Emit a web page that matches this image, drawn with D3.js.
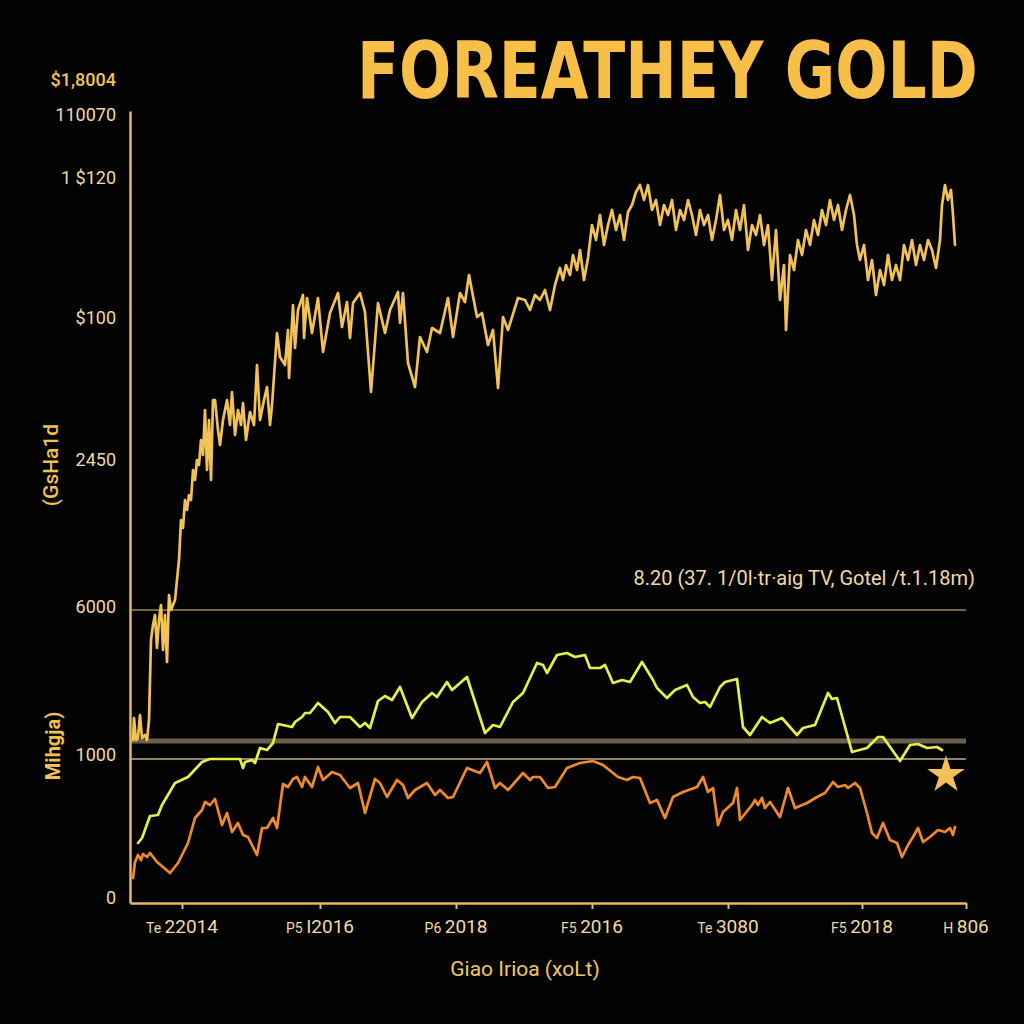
<!DOCTYPE html>
<html>
<head>
<meta charset="utf-8">
<script src="https://cdn.jsdelivr.net/npm/d3@7"></script>
<style>
  html, body { margin: 0; padding: 0; background: #030303; }
  svg { display: block; }
</style>
</head>
<body>
<svg id="chart" width="1024" height="1024"></svg>
<script>
// ---------- DATA ----------
const title = "FOREATHEY GOLD";
const annotation = "8.20 (37. 1/0l·tr·aig TV, Gotel /t.1.18m)";
const xAxisTitle = "Giao Irioa (xoLt)";
const yAxisTitle1 = "(GsHa1d";
const yAxisTitle2 = "Mihgja)";

const xTickValues = [52, 190, 326, 462, 598, 732, 836];
const xTickPrefixes = ["Te", "P5", "P6", "F5", "Te", "F5", "H"];
const xTickNumbers = ["22014", "I2016", "2018", "2016", "3080", "2018", "806"];

const yTickValues = [5, 148, 296, 443, 585, 725, 788, 823];
const yTickLabels = ["0", "1000", "6000", "2450", "$100", "1 $120", "110070", "$1,8004"];

const refLineValues = [293, 162, 144];
const starPoint = [816, 128];

const goldSeries = [[3,163],[4,185],[6,163],[8,165],[10,188],[12,165],[15,168],[17,163],[19,183],[21,263],[23,278],[25,288],[27,255],[29,283],[31,298],[33,253],[35,288],[37,241],[39,308],[41,293],[43,298],[45,303],[47,323],[49,343],[51,383],[53,375],[55,403],[57,393],[59,408],[61,403],[63,433],[65,423],[67,443],[69,438],[71,463],[73,448],[75,493],[77,433],[79,483],[81,423],[83,503],[85,503],[88,473],[90,458],[93,483],[97,503],[100,478],[102,511],[105,468],[108,493],[111,478],[113,500],[116,463],[120,491],[124,478],[127,538],[130,483],[134,503],[137,516],[140,478],[142,498],[147,570],[150,546],[155,538],[158,573],[159,525],[163,598],[165,555],[168,593],[173,608],[174,565],[177,605],[182,570],[188,605],[193,551],[200,590],[208,610],[212,576],[217,601],[220,565],[223,600],[230,610],[235,591],[241,511],[248,600],[255,570],[260,593],[268,611],[270,580],[273,610],[278,540],[285,516],[290,566],[297,551],[302,575],[310,570],[318,605],[323,566],[330,610],[335,601],[339,628],[347,586],[352,590],[358,558],[363,573],[368,515],[373,586],[378,573],[388,605],[395,603],[400,593],[405,608],[410,603],[415,613],[420,593],[425,618],[430,635],[433,623],[436,638],[440,628],[443,648],[447,633],[450,653],[454,623],[458,645],[462,678],[466,663],[470,688],[474,658],[478,678],[482,693],[486,673],[490,688],[494,663],[498,691],[502,698],[506,711],[510,718],[514,703],[518,718],[522,693],[526,703],[530,678],[534,698],[538,688],[542,703],[546,673],[550,693],[554,683],[558,703],[562,688],[566,668],[570,693],[574,678],[578,688],[582,663],[586,683],[590,708],[594,673],[598,683],[602,663],[606,693],[610,673],[614,698],[618,653],[622,678],[626,668],[630,688],[634,658],[638,678],[642,623],[646,673],[650,603],[654,638],[656,573],[660,648],[664,633],[668,663],[672,648],[676,673],[680,658],[684,683],[688,668],[692,693],[696,678],[700,703],[704,683],[708,698],[712,673],[716,693],[720,708],[724,688],[727,658],[730,643],[734,658],[738,623],[742,643],[746,608],[750,633],[754,618],[758,648],[762,623],[766,638],[770,623],[774,658],[778,643],[782,663],[786,638],[790,658],[794,643],[798,663],[802,653],[806,635],[810,663],[812,698],[815,718],[818,703],[821,713],[823,688],[825,658]];

const yellowSeries = [[8,60],[12,65],[20,87],[28,88],[32,98],[45,120],[58,126],[72,141],[80,144],[110,144],[113,135],[115,141],[122,143],[125,140],[130,155],[137,153],[143,160],[148,179],[162,176],[165,181],[172,186],[175,190],[180,190],[188,200],[198,191],[205,180],[210,186],[220,186],[230,176],[235,180],[240,175],[248,202],[255,207],[262,203],[270,216],[282,185],[292,201],[302,210],[307,206],[317,221],[322,213],[337,226],[355,170],[363,178],[370,176],[383,201],[393,210],[407,240],[413,238],[417,230],[427,248],[437,250],[445,246],[455,248],[460,235],[470,235],[475,238],[483,220],[492,223],[500,221],[512,241],[523,223],[527,215],[537,205],[545,213],[557,218],[563,206],[570,200],[575,201],[580,196],[590,216],[595,221],[607,224],[613,176],[620,168],[632,186],[640,180],[652,185],[667,168],[673,175],[685,178],[698,210],[702,204],[707,205],[722,151],[737,155],[748,166],[753,166],[770,142],[780,158],[788,159],[797,155],[807,156],[812,153]];

const orangeSeries = [[3,25],[5,41],[8,48],[11,43],[13,49],[17,46],[20,50],[27,41],[33,36],[40,30],[48,40],[58,60],[65,85],[72,93],[75,101],[80,98],[85,104],[92,78],[97,90],[102,71],[108,80],[113,68],[118,66],[127,48],[132,75],[137,75],[143,85],[147,75],[153,119],[158,116],[163,124],[167,126],[172,116],[175,126],[182,116],[188,136],[193,123],[202,131],[210,128],[220,115],[228,120],[235,90],[245,124],[250,120],[257,106],[267,123],[273,118],[278,105],[285,113],[297,120],[305,108],[310,113],[318,105],[323,106],[337,135],[350,130],[357,141],[365,115],[370,120],[378,113],[393,130],[400,123],[403,126],[410,126],[418,115],[425,116],[437,135],[450,140],[463,142],[473,138],[483,130],[488,126],[497,123],[503,126],[510,125],[520,100],[527,103],[535,85],[543,106],[553,111],[567,116],[573,126],[578,111],[583,115],[588,78],[593,91],[603,100],[607,115],[610,83],[622,98],[625,103],[628,98],[632,105],[635,95],[640,101],[650,86],[658,115],[665,95],[677,100],[687,106],[695,110],[703,121],[708,116],[715,118],[718,115],[725,120],[730,115],[737,90],[742,70],[747,65],[753,80],[760,63],[767,60],[772,46],[778,58],[783,66],[788,75],[793,61],[800,66],[808,73],[815,71],[820,75],[823,68],[825,76]];

// ---------- STYLE ----------
const C = {
  bg: "#030303",
  axis: "#E8B85A",
  tick: "#F0D9A2",
  title: "#F7BE48",
  gold: "#F3C257",
  yellow: "#E6EE48",
  orange: "#F08A26",
  star: "#F6BE58",
  ref: ["#9A8850", "#6C604C", "#BDAE8E"],
  refW: [1.5, 5, 1.5]
};
const font = "Roboto, 'Liberation Sans', 'DejaVu Sans', sans-serif";

const svg = d3.select("#chart");
svg.append("rect").attr("width", 1024).attr("height", 1024).attr("fill", C.bg);

const mLeft = 130, mRight = 966, mTop = 111, mBottom = 903;
const x = d3.scaleLinear().domain([0, 836]).range([mLeft, mRight]);
const y = d3.scaleLinear().domain([0, 792]).range([mBottom, mTop]);

// Title: condensed to a fixed width via a horizontal scale transform
const titleLeft = 357, titleWidth = 621, titleBaseline = 98;
const titleText = svg.append("text")
  .attr("x", 0).attr("y", 0)
  .attr("text-anchor", "start")
  .attr("font-family", "'Liberation Sans Narrow', 'DejaVu Sans Condensed', 'Liberation Sans', sans-serif")
  .attr("font-weight", 700)
  .attr("font-size", 78)
  .attr("fill", C.title)
  .text(title);
const natW = titleText.node().getComputedTextLength() || titleWidth;
titleText.attr("transform", `translate(${titleLeft},${titleBaseline}) scale(${titleWidth / natW},1)`);

// Reference lines
svg.append("g").selectAll("line").data(refLineValues).join("line")
  .attr("x1", x(0)).attr("x2", x(836))
  .attr("y1", d => y(d)).attr("y2", d => y(d))
  .attr("stroke", (d, i) => C.ref[i])
  .attr("stroke-width", (d, i) => C.refW[i]);

// Annotation
svg.append("text")
  .attr("x", 975).attr("y", 585)
  .attr("text-anchor", "end")
  .attr("font-family", font)
  .attr("font-size", 20)
  .attr("fill", C.tick)
  .text(annotation);

// Lines
const line = d3.line().x(d => x(d[0])).y(d => y(d[1])).curve(d3.curveLinear);
const seriesList = [
  { data: orangeSeries, color: C.orange },
  { data: yellowSeries, color: C.yellow },
  { data: goldSeries, color: C.gold }
];
svg.append("g").selectAll("path").data(seriesList).join("path")
  .attr("d", d => line(d.data))
  .attr("fill", "none")
  .attr("stroke", d => d.color)
  .attr("stroke-width", 2.7)
  .attr("stroke-linejoin", "round")
  .attr("stroke-linecap", "round");

// Star
svg.append("path")
  .attr("d", d3.symbol(d3.symbolStar, 440)())
  .attr("transform", `translate(${x(starPoint[0])},${y(starPoint[1])})`)
  .attr("fill", C.star);

// Y axis
const yAxis = d3.axisLeft(y)
  .tickValues(yTickValues)
  .tickFormat((d, i) => yTickLabels[i])
  .tickSize(0)
  .tickPadding(14);
const gy = svg.append("g").attr("transform", `translate(${mLeft},0)`).call(yAxis);
gy.select(".domain").attr("stroke", C.axis).attr("stroke-width", 2.5);
gy.selectAll("text")
  .attr("font-family", font)
  .attr("font-size", 18)
  .attr("fill", (d, i) => i === yTickValues.length - 1 ? "#F2C455" : C.tick)
  .attr("font-weight", (d, i) => i === yTickValues.length - 1 ? 500 : 400);

// X axis
const xAxis = d3.axisBottom(x)
  .tickValues(xTickValues)
  .tickFormat("")
  .tickSizeInner(6)
  .tickSizeOuter(0);
const gx = svg.append("g").attr("transform", `translate(0,${mBottom})`).call(xAxis);
gx.select(".domain").attr("stroke", C.axis).attr("stroke-width", 2.5);
gx.selectAll(".tick line").attr("stroke", C.axis).attr("stroke-width", 2);

const xl = svg.append("g").selectAll("text").data(xTickValues).join("text")
  .attr("x", d => x(d))
  .attr("y", 933)
  .attr("text-anchor", "middle")
  .attr("font-family", font)
  .attr("fill", C.tick);
xl.append("tspan").attr("font-size", 14).text((d, i) => xTickPrefixes[i] + " ");
xl.append("tspan").attr("font-size", 19).text((d, i) => xTickNumbers[i]);

// Axis titles
svg.append("text")
  .attr("x", 525).attr("y", 976)
  .attr("text-anchor", "middle")
  .attr("font-family", font)
  .attr("font-size", 21)
  .attr("fill", "#EFC864")
  .text(xAxisTitle);

svg.append("text")
  .attr("transform", "translate(58,465) rotate(-90)")
  .attr("text-anchor", "middle")
  .attr("font-family", font)
  .attr("font-size", 21)
  .attr("font-weight", 500)
  .attr("fill", "#EFC150")
  .text(yAxisTitle1);

svg.append("text")
  .attr("transform", "translate(60,746) rotate(-90)")
  .attr("text-anchor", "middle")
  .attr("font-family", font)
  .attr("font-size", 20)
  .attr("font-weight", 700)
  .attr("fill", "#EFC150")
  .text(yAxisTitle2);
</script>
</body>
</html>
